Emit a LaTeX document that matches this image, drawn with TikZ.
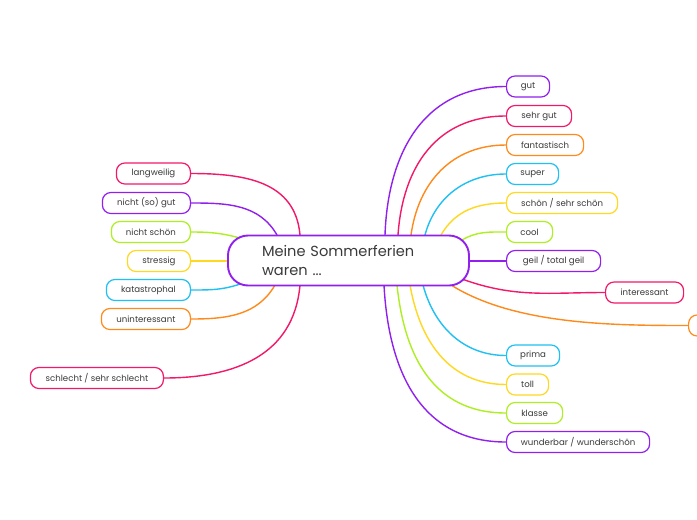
\documentclass[tikz,border=0pt]{standalone}
\usepackage{fontspec}
\setmainfont{Poppins}
\definecolor{cpurple}{HTML}{9120EE}
\definecolor{cpink}{HTML}{F2186A}
\definecolor{corange}{HTML}{FF8A1C}
\definecolor{ccyan}{HTML}{1FC0F2}
\definecolor{cyellow}{HTML}{FFD820}
\definecolor{clime}{HTML}{AEEF22}
\definecolor{ctext}{HTML}{3A3A3A}
\pgfdeclarelayer{bglayer}
\pgfdeclarelayer{linelayer}
\pgfsetlayers{bglayer,linelayer,main}
\tikzset{
  leaf/.style={draw=#1, line width=1.2pt, fill=white, rounded corners=8.5pt,
    minimum height=21pt, inner xsep=0pt, inner ysep=0pt, text=ctext,
    font=\fontsize{8.6}{10}\selectfont},
  link/.style={draw=#1, line width=1.4pt},
  rleaf/.style={leaf=#1, anchor=west},
  lleaf/.style={leaf=#1, anchor=east},
}
\begin{document}
\begin{tikzpicture}[x=1pt,y=1pt]
\useasboundingbox (0,0) rectangle (697,-520);
\begin{pgfonlayer}{bglayer}
\fill[white] (0,0) rectangle (697,-520);
\end{pgfonlayer}

% attachment points on the central node
\coordinate (a1) at (385,-235);
\coordinate (a2) at (398,-235);
\coordinate (a3) at (411,-235);
\coordinate (a4) at (425,-235);
\coordinate (a5) at (441,-235);
\coordinate (a6) at (462,-240);
\coordinate (a7) at (469,-261);
\coordinate (a8) at (462,-279);
\coordinate (a9) at (451,-285);
\coordinate (a10) at (423,-285);
\coordinate (a11) at (410,-285);
\coordinate (a12) at (397,-285);
\coordinate (a13) at (384,-285);
\coordinate (b1) at (300,-235);
\coordinate (b2) at (277,-235);
\coordinate (b3) at (240,-238);
\coordinate (b4) at (228,-261);
\coordinate (b5) at (243,-283);
\coordinate (b6) at (275,-285);
\coordinate (b7) at (300,-285);

% right nodes
\node[rleaf=cpurple, minimum width=43pt] (gut) at (506,-86.5) {gut};
\node[rleaf=cpink, minimum width=65pt] (sehrgut) at (506,-116) {sehr gut};
\node[rleaf=corange, minimum width=77pt] (fant) at (506,-145) {fantastisch};
\node[rleaf=ccyan, minimum width=52pt] (super) at (506,-174) {super};
\node[rleaf=cyellow, minimum width=111pt] (schoen) at (506,-203) {schön / sehr schön};
\node[rleaf=clime, minimum width=46pt] (cool) at (506,-232) {cool};
\node[rleaf=cpurple, minimum width=94pt] (geil) at (506,-261) {geil / total geil};
\node[rleaf=cpink, minimum width=78pt] (inter) at (605,-292.5) {interessant};
\node[rleaf=corange, minimum width=60pt] (extra) at (688,-325.5) {};
\node[rleaf=ccyan, minimum width=53pt] (prima) at (506,-355.5) {prima};
\node[rleaf=cyellow, minimum width=42pt] (toll) at (506,-384.5) {toll};
\node[rleaf=clime, minimum width=56pt] (klasse) at (506,-413) {klasse};
\node[rleaf=cpurple, minimum width=143pt] (wunder) at (506,-442) {wunderbar / wunderschön};

% left nodes
\node[lleaf=cpink, minimum width=74pt] (lang) at (191,-173.5) {langweilig};
\node[lleaf=cpurple, minimum width=88pt] (nsg) at (191,-203) {nicht (so) gut};
\node[lleaf=clime, minimum width=79pt] (nschoen) at (191,-232) {nicht schön};
\node[lleaf=cyellow, minimum width=63pt] (stress) at (191,-261) {stressig};
\node[lleaf=ccyan, minimum width=84pt] (kata) at (191,-290) {katastrophal};
\node[lleaf=corange, minimum width=89pt] (unint) at (191,-319) {uninteressant};
\node[lleaf=cpink, minimum width=133pt] (schlecht) at (164,-378) {schlecht / sehr schlecht};

% central node
\node[draw=cpurple, line width=1.9pt, fill=white, rounded corners=20pt,
  minimum width=241pt, minimum height=50pt, text width=173pt, inner xsep=34pt,
  align=left, text=ctext, font=\fontsize{14.6}{19}\selectfont]
  (center) at (348.5,-260.5) {Meine Sommerferien\\waren ...};

\begin{pgfonlayer}{linelayer}
% connectors (right)
\draw[link=cpurple] (a1) to[out=88,in=180,looseness=1.1] (gut.west);
\draw[link=cpink] (a2) to[out=86,in=180,looseness=1.1] (sehrgut.west);
\draw[link=corange] (a3) to[out=82,in=180,looseness=1.05] (fant.west);
\draw[link=ccyan] (a4) to[out=75,in=180] (super.west);
\draw[link=cyellow] (a5) to[out=60,in=180] (schoen.west);
\draw[link=clime] (a6) to[out=30,in=180] (cool.west);
\draw[link=cpurple] (a7) -- (geil.west);
\draw[link=cpink] (a8) to[out=-20,in=180] (inter.west);
\draw[link=corange] (a9) to[out=-32,in=180,looseness=0.8] (extra.west);
\draw[link=ccyan] (a10) to[out=-75,in=180] (prima.west);
\draw[link=cyellow] (a11) to[out=-80,in=180,looseness=1.05] (toll.west);
\draw[link=clime] (a12) to[out=-84,in=180,looseness=1.1] (klasse.west);
\draw[link=cpurple] (a13) to[out=-87,in=180,looseness=1.1] (wunder.west);
% connectors (left)
\draw[link=cpink] (b1) to[out=95,in=0,looseness=1.1] (lang.east);
\draw[link=cpurple] (b2) to[out=120,in=0] (nsg.east);
\draw[link=clime] (b3) to[out=165,in=0] (nschoen.east);
\draw[link=cyellow] (b4) -- (stress.east);
\draw[link=ccyan] (b5) to[out=200,in=0] (kata.east);
\draw[link=corange] (b6) to[out=240,in=0] (unint.east);
\draw[link=cpink] (b7) to[out=265,in=0,looseness=1.1] (schlecht.east);
\end{pgfonlayer}
\end{tikzpicture}
\end{document}
